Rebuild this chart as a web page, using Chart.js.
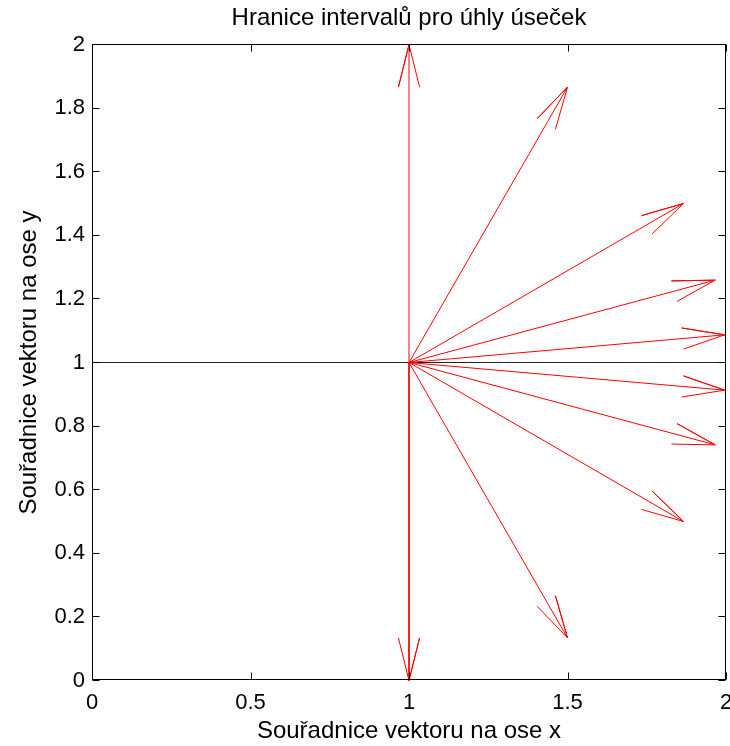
<!DOCTYPE html>
<html>
<head>
<meta charset="utf-8">
<title>Hranice intervalů pro úhly úseček</title>
<script src="https://cdn.jsdelivr.net/npm/chart.js@4.4.1/dist/chart.umd.min.js"></script>
<style>
  body { margin: 0; background: #fff; }
</style>
</head>
<body>
<canvas id="myChart" width="730" height="746"></canvas>
<script>
// all arrows start in (1, 1), end points
const startX = 1;
const startY = 1;
const endX = [1, 1.5, 1.866, 1.966, 1.996, 1.996, 1.966, 1.866, 1.5, 1];
const endY = [2, 1.866, 1.5, 1.259, 1.087, 0.913, 0.741, 0.5, 0.134, 0];

// black horizontal line through the middle
const lineX = [0, 2];
const lineY = [1, 1];

const xTickLabels = ['0', '0.5', '1', '1.5', '2'];
const yTickLabels = ['0', '0.2', '0.4', '0.6', '0.8', '1', '1.2', '1.4', '1.6', '1.8', '2'];

const headLength = 0.138; // arrow head size in axis units
const headAngle = 14 * Math.PI / 180;

const arrowPoints = (x0, y0, x1, y1) => {
    const a = Math.atan2(y1 - y0, x1 - x0);
    const tip = {x: x1, y: y1};
    return [
        {x: x0, y: y0},
        tip,
        {x: x1 - headLength * Math.cos(a - headAngle), y: y1 - headLength * Math.sin(a - headAngle)},
        tip,
        {x: x1 - headLength * Math.cos(a + headAngle), y: y1 - headLength * Math.sin(a + headAngle)}
    ];
}

// box round the plot with inward ticks on all four sides
const boxPlugin = {
    id: 'box',
    afterDraw(chart) {
        const ctx = chart.ctx;
        const {left, right, top, bottom} = chart.chartArea;
        const xs = chart.scales.x, ys = chart.scales.y;
        const tick = 7;
        const l = Math.floor(left) + 0.5, r = Math.floor(right) - 0.5;
        const t = Math.floor(top) + 0.5, b = Math.floor(bottom) - 0.5;
        ctx.save();
        ctx.strokeStyle = '#000';
        ctx.lineWidth = 1;
        ctx.strokeRect(l, t, r - l, b - t);
        ctx.beginPath();
        xs.ticks.forEach(tk => {
            const px = Math.round(xs.getPixelForValue(tk.value)) + 0.5;
            ctx.moveTo(px, b); ctx.lineTo(px, b - tick);
            ctx.moveTo(px, t); ctx.lineTo(px, t + tick);
        });
        ys.ticks.forEach(tk => {
            const py = Math.floor(ys.getPixelForValue(tk.value)) + 0.5;
            ctx.moveTo(l, py); ctx.lineTo(l + tick, py);
            ctx.moveTo(r, py); ctx.lineTo(r - tick, py);
        });
        ctx.stroke();
        ctx.restore();
    }
};

const renderChart = () => {
    Chart.defaults.color = '#000';
    Chart.defaults.font.family = '"Liberation Sans", Arial, sans-serif';

    var datasets = endX.map((x, i) => ({
        data: arrowPoints(startX, startY, x, endY[i]),
        borderColor: '#ff0000',
        borderWidth: 1,
        pointRadius: 0,
        showLine: true,
        clip: 6
    }));
    datasets.push({
        data: lineX.map((x, i) => ({x: x, y: lineY[i]})),
        borderColor: '#222222',
        borderWidth: 1,
        pointRadius: 0,
        showLine: true
    });

    var ctx = document.getElementById('myChart').getContext('2d');
    var myChart = new Chart(ctx, {
        type: 'scatter',
        data: {datasets: datasets},
        options: {
            responsive: false,
            animation: false,
            events: [],
            layout: {padding: {top: 0, right: 4, bottom: 0, left: 0}},
            plugins: {
                legend: {display: false},
                tooltip: {enabled: false},
                title: {
                    display: true,
                    fullSize: false,
                    text: 'Hranice intervalů pro úhly úseček',
                    font: {size: 24, weight: 'normal'},
                    padding: {top: 3.6, bottom: 12.1}
                }
            },
            scales: {
                x: {
                    type: 'linear',
                    min: 0,
                    max: 2,
                    grid: {display: false, drawTicks: false},
                    border: {display: false},
                    ticks: {
                        stepSize: 0.5,
                        autoSkip: false,
                        maxRotation: 0,
                        padding: 9,
                        font: {size: 22},
                        callback: (v, i) => xTickLabels[i]
                    },
                    title: {
                        display: true,
                        text: 'Souřadnice vektoru na ose x',
                        font: {size: 24},
                        padding: {top: 0, bottom: 0.6}
                    },
                    afterFit: s => { s.height = 65.5; s.paddingLeft = 0; s.paddingRight = 0; }
                },
                y: {
                    type: 'linear',
                    min: 0,
                    max: 2,
                    grid: {display: false, drawTicks: false},
                    border: {display: false},
                    ticks: {
                        stepSize: 0.2,
                        autoSkip: false,
                        padding: 7,
                        font: {size: 22},
                        callback: (v, i) => yTickLabels[i]
                    },
                    title: {
                        display: true,
                        text: 'Souřadnice vektoru na ose y',
                        font: {size: 24},
                        padding: {top: 14.6, bottom: 0}
                    },
                    afterFit: s => { s.width = 92; s.paddingTop = 0; s.paddingBottom = 0; }
                }
            }
        },
        plugins: [boxPlugin]
    });
}

document.addEventListener('DOMContentLoaded', function() {
    renderChart();
});
</script>
</body>
</html>
